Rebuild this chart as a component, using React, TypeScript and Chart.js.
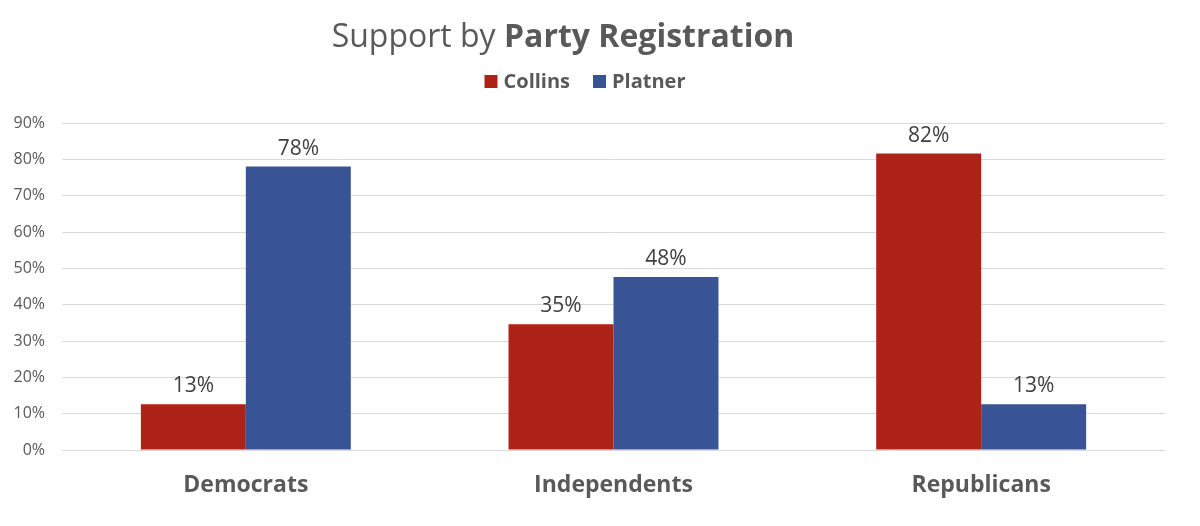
import React, { useEffect, useRef } from 'react';
import { Chart, registerables } from 'chart.js';

Chart.register(...registerables);

const categories = ['Democrats', 'Independents', 'Republicans'];
const seriesNames = ['Collins', 'Platner'];
const collinsValues = [12.6, 34.6, 81.6];
const platnerValues = [78.0, 47.6, 12.6];
const seriesColors = ['#AE2318', '#385494'];
const titleRegular = 'Support by ';
const titleBold = 'Party Registration';
const yMax = 90;
const yStep = 10;

const FONT = '"Open Sans", "DejaVu Sans", sans-serif';
const TEXT = '#595959';

const decorPlugin = {
  id: 'decor',
  afterDraw(chart: any) {
    const ctx = chart.ctx as CanvasRenderingContext2D;
    ctx.save();
    // Title (mixed weights)
    ctx.fillStyle = TEXT;
    ctx.textBaseline = 'alphabetic';
    ctx.textAlign = 'left';
    const tSize = 32;
    ctx.font = `400 ${tSize}px ${FONT}`;
    const w1 = ctx.measureText(titleRegular).width;
    ctx.font = `700 ${tSize}px ${FONT}`;
    const w2 = ctx.measureText(titleBold).width;
    const tx = 563 - (w1 + w2) / 2;
    ctx.font = `400 ${tSize}px ${FONT}`;
    ctx.fillText(titleRegular, tx, 47);
    ctx.font = `700 ${tSize}px ${FONT}`;
    ctx.fillText(titleBold, tx + w1, 47);

    // Legend
    const box = 13;
    const gapText = 6;
    const gapItem = 23;
    ctx.font = `700 20px ${FONT}`;
    const widths = seriesNames.map((n) => ctx.measureText(n).width);
    const total = widths.reduce((a, w) => a + box + gapText + w, 0) + gapItem * (seriesNames.length - 1);
    let lx = 585 - total / 2;
    const ly = 81.5;
    ctx.textBaseline = 'middle';
    seriesNames.forEach((n, i) => {
      ctx.fillStyle = seriesColors[i];
      ctx.fillRect(lx, ly - box / 2, box, box);
      ctx.fillStyle = TEXT;
      ctx.fillText(n, lx + box + gapText, ly + 1);
      lx += box + gapText + widths[i] + gapItem;
    });
    ctx.restore();
  },
  afterDatasetsDraw(chart: any) {
    const ctx = chart.ctx as CanvasRenderingContext2D;
    ctx.save();
    ctx.font = `400 21px ${FONT}`;
    ctx.fillStyle = '#404040';
    ctx.textAlign = 'center';
    ctx.textBaseline = 'alphabetic';
    chart.getSortedVisibleDatasetMetas().forEach((meta: any) => {
      const data = chart.data.datasets[meta.index].data;
      meta.data.forEach((bar: any, i: number) => {
        ctx.fillText(Math.round(data[i]) + '%', bar.x, bar.y - 12);
      });
    });
    ctx.restore();
  },
};

export default function App() {
  const ref = useRef<HTMLCanvasElement>(null);
  useEffect(() => {
    if (!ref.current) return;
    const chart = new Chart(ref.current, {
      type: 'bar',
      data: {
        labels: categories,
        datasets: [
          {
            label: seriesNames[0],
            data: collinsValues,
            backgroundColor: seriesColors[0],
            barPercentage: 1,
            categoryPercentage: 0.571,
          },
          {
            label: seriesNames[1],
            data: platnerValues,
            backgroundColor: seriesColors[1],
            barPercentage: 1,
            categoryPercentage: 0.571,
          },
        ],
      },
      options: {
        responsive: false,
        animation: false,
        layout: { padding: { top: 123, right: 35, left: 0, bottom: 0 } },
        plugins: {
          legend: { display: false },
          title: { display: false },
          tooltip: { enabled: false },
        },
        scales: {
          x: {
            grid: { display: false, drawTicks: false },
            border: { display: false },
            ticks: {
              color: TEXT,
              font: { family: FONT, size: 23, weight: 'bold' },
              padding: 22,
            },
            afterFit: (s: any) => {
              s.height = 76;
            },
          },
          y: {
            min: 0,
            max: yMax,
            grid: { color: '#D9D9D9', lineWidth: 1, drawTicks: false },
            border: { display: false },
            ticks: {
              stepSize: yStep,
              color: TEXT,
              font: { family: FONT, size: 16 },
              padding: 17,
              callback: (v: any) => v + '%',
            },
            afterFit: (s: any) => {
              s.width = 62;
            },
          },
        },
      },
      plugins: [decorPlugin],
    } as any);
    return () => chart.destroy();
  }, []);
  return (
    <div style={{ position: 'absolute', left: 0, top: 0, width: 1200, height: 526, background: '#fff' }}>
      <canvas ref={ref} width={1200} height={526} style={{ display: 'block' }} />
    </div>
  );
}
